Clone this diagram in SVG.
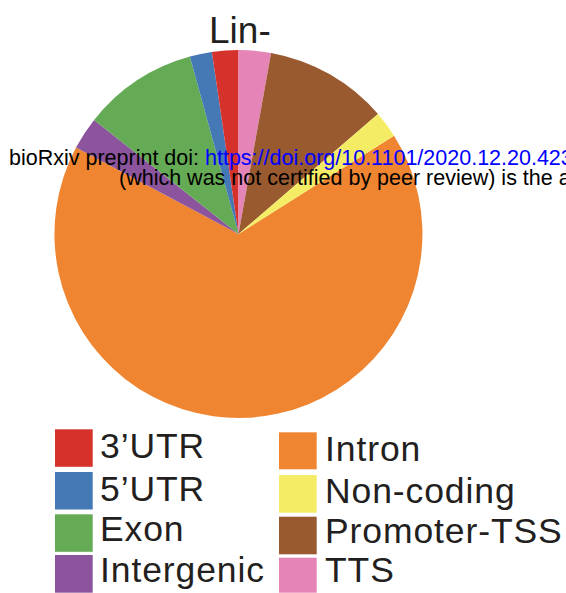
<svg xmlns="http://www.w3.org/2000/svg" width="566" height="593" viewBox="0 0 566 593">
<style>
.lbl{font-family:"Liberation Sans",Arial,sans-serif;font-size:35.5px;fill:#231F20;letter-spacing:0.9px}
.hdr{font-family:"Liberation Sans",Arial,sans-serif;font-size:21.5px;fill:#000}
</style>
<rect width="566" height="593" fill="#fff"/>
<text id="title" x="209" y="43" font-family="'Liberation Sans',Arial,sans-serif" font-size="37" fill="#231F20">Lin-</text>
<g id="pie">
<path id="intron" d="M238.5,234 L394.0,135.7 A184,184 0 1,1 76.0,147.6 Z" fill="#EF8531"/>
<path id="intergenic" d="M238.5,234 L76.0,147.6 A184,184 0 0,1 94.1,119.9 Z" fill="#8B549C"/>
<path id="exon" d="M238.5,234 L94.1,119.9 A184,184 0 0,1 189.9,56.5 Z" fill="#65AB55"/>
<path id="utr5" d="M238.5,234 L189.9,56.5 A184,184 0 0,1 211.9,51.9 Z" fill="#4479B5"/>
<path id="utr3" d="M238.5,234 L211.9,51.9 A184,184 0 0,1 238.5,50 Z" fill="#D6322C"/>
<path id="tts" d="M238.5,234 L238.5,50 A184,184 0 0,1 271.1,52.9 Z" fill="#E584B6"/>
<path id="promoter" d="M238.5,234 L271.1,52.9 A184,184 0 0,1 378.0,114.0 Z" fill="#995A30"/>
<path id="noncoding" d="M238.5,234 L378.0,114.0 A184,184 0 0,1 394.0,135.7 Z" fill="#F5EC66"/>
</g>
<g id="header">
<text class="hdr" x="9" y="165">bioRxiv preprint doi: <tspan fill="#0000FF">https://doi.org/10.1101/2020.12.20.423</tspan></text>
<text class="hdr" x="119" y="185">(which was not certified by peer review) is the a</text>
</g>
<g id="legend-3utr"><rect x="55" y="429.3" width="37.7" height="37.5" fill="#D6322C"/><text class="lbl" x="100" y="457.7">3’UTR</text></g>
<g id="legend-5utr"><rect x="55" y="472" width="37.7" height="37.5" fill="#4479B5"/><text class="lbl" x="100" y="500.5">5’UTR</text></g>
<g id="legend-exon"><rect x="55" y="514.3" width="37.7" height="37.5" fill="#65AB55"/><text class="lbl" x="100" y="540.7">Exon</text></g>
<g id="legend-intergenic"><rect x="55" y="555" width="37.7" height="37.7" fill="#8B549C"/><text class="lbl" x="100" y="581.7">Intergenic</text></g>
<g id="legend-intron"><rect x="279" y="432.3" width="37.7" height="37" fill="#EF8531"/><text class="lbl" x="325" y="460.7">Intron</text></g>
<g id="legend-noncoding"><rect x="279" y="475" width="37.7" height="37.7" fill="#F5EC66"/><text class="lbl" x="325" y="503.3">Non-coding</text></g>
<g id="legend-promoter"><rect x="279" y="516.7" width="37.7" height="37.6" fill="#995A30"/><text class="lbl" x="325" y="543.3">Promoter-TSS</text></g>
<g id="legend-tts"><rect x="279" y="557.7" width="37.7" height="35" fill="#E584B6"/><text class="lbl" x="325" y="581.7">TTS</text></g>
</svg>
